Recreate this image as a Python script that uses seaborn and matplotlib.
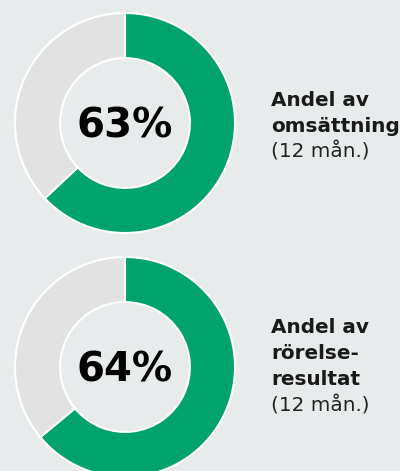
import matplotlib
matplotlib.use('Agg')
import matplotlib.pyplot as plt
import seaborn as sns

# data
shares = [63, 64]
share_labels = ['63%', '64%']
captions = [['Andel av', 'omsättning'], ['Andel av', 'rörelse-', 'resultat']]
period = '(12 mån.)'

bg = '#e8ebec'
green = '#00a36c'
grey = '#e2e2e2'

sns.set_style('white', {'axes.facecolor': bg, 'figure.facecolor': bg})
plt.rcParams['font.family'] = ['DejaVu Sans']

W, H = 400, 471
fig = plt.figure(figsize=(W / 100, H / 100), dpi=100)
fig.patch.set_facecolor(bg)

centers_y = [123, 367]
text_top = [106, 333]
R = 110
cx = 125

for i, pct in enumerate(shares):
    cy = centers_y[i]
    ax = fig.add_axes([(cx - R) / W, (H - cy - R) / H, 2 * R / W, 2 * R / H])
    ax.pie([pct, 100 - pct], colors=[green, grey], startangle=90, counterclock=False,
           radius=1, wedgeprops=dict(width=0.41, edgecolor='white', linewidth=1.5))
    ax.set_xlim(-1.0, 1.0)
    ax.set_ylim(-1.0, 1.0)
    ax.axis('off')
    ax.text(0, -0.13, share_labels[i], ha='center', va='baseline',
            fontsize=29, fontweight='bold', color='black')

    base = text_top[i]
    lines = captions[i]
    for j, line in enumerate(lines):
        fig.text(271 / W, 1 - (base + 26 * j) / H, line, ha='left', va='baseline',
                 fontsize=14.4, fontweight='bold', color='#1a1a1a')
    fig.text(271 / W, 1 - (base + 26 * len(lines)) / H, period, ha='left', va='baseline',
             fontsize=14.4, color='#222222')

fig.savefig('out.png', dpi=100, facecolor=bg)
